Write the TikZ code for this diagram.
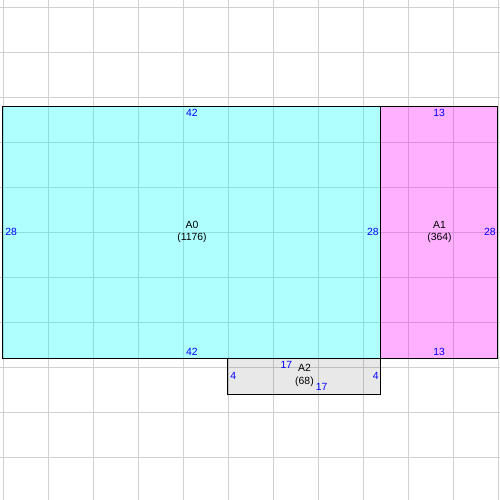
\documentclass[tikz,border=0pt]{standalone}
\usepackage{fontspec}
\setmainfont{Liberation Sans}
\usepackage{tikz}
\usetikzlibrary{positioning}
\definecolor{areacyan}{RGB}{0,255,255}
\definecolor{areamagenta}{RGB}{255,0,255}
\definecolor{areagray}{RGB}{0,0,0}
\definecolor{gridgray}{RGB}{208,208,208}

\begin{document}
\begin{tikzpicture}[x=9pt,y=9pt,
  gridline/.style={draw=gridgray, line width=0.8pt},
  area/.style={draw=black, line width=1pt, fill opacity=0.31},
  dimlab/.style={text=blue, font=\fontsize{10.4}{12}\selectfont, inner sep=2.1pt},
  arealab/.style={align=center, font=\fontsize{10.4}{12.8}\selectfont, inner sep=0pt}]
\clip (-0.333,-15.778) rectangle (55.222,39.778);

\foreach \gx in {0,5,...,55} \draw[gridline] (\gx,-16) -- (\gx,40);
\foreach \gy in {-11,-6,...,39} \draw[gridline] (-1,\gy) -- (56,\gy);

\filldraw[area, fill=areacyan] (0,0) coordinate (A0sw) rectangle (42,28) coordinate (A0ne);
\filldraw[area, fill=areamagenta] (42,0) coordinate (A1sw) rectangle (55,28) coordinate (A1ne);
\filldraw[area, fill=areagray, fill opacity=0.09] (25,-4) coordinate (A2sw) rectangle (42,0) coordinate (A2ne);

\node[arealab] (A0) at (21,14) {A0\\(1176)};
\node[arealab] (A1) at (48.5,14) {A1\\(364)};
\node[arealab] (A2) at (33.5,-1.9) {A2\\(68)};

\node[dimlab, anchor=north, inner sep=2.8pt] (A0top) at (21,28) {42};
\node[dimlab, anchor=south] (A0bot) at (21,0) {42};
\node[dimlab, anchor=west] (A0left) at (0,14) {28};
\node[dimlab, anchor=east] (A0right) at (42,14) {28};

\node[dimlab, anchor=north, inner sep=2.8pt] (A1top) at (48.45,28) {13};
\node[dimlab, anchor=south] (A1bot) at (48.45,0) {13};
\node[dimlab, anchor=east] (A1right) at (55,14) {28};

\node[dimlab, anchor=north, inner sep=3.2pt] (A2top) at (31.5,0) {17};
\node[dimlab, anchor=south, inner sep=3.2pt] (A2bot) at (35.4,-4) {17};
\node[dimlab, anchor=west] (A2left) at (25,-2) {4};
\node[dimlab, anchor=east] (A2right) at (42,-2) {4};
\end{tikzpicture}
\end{document}
